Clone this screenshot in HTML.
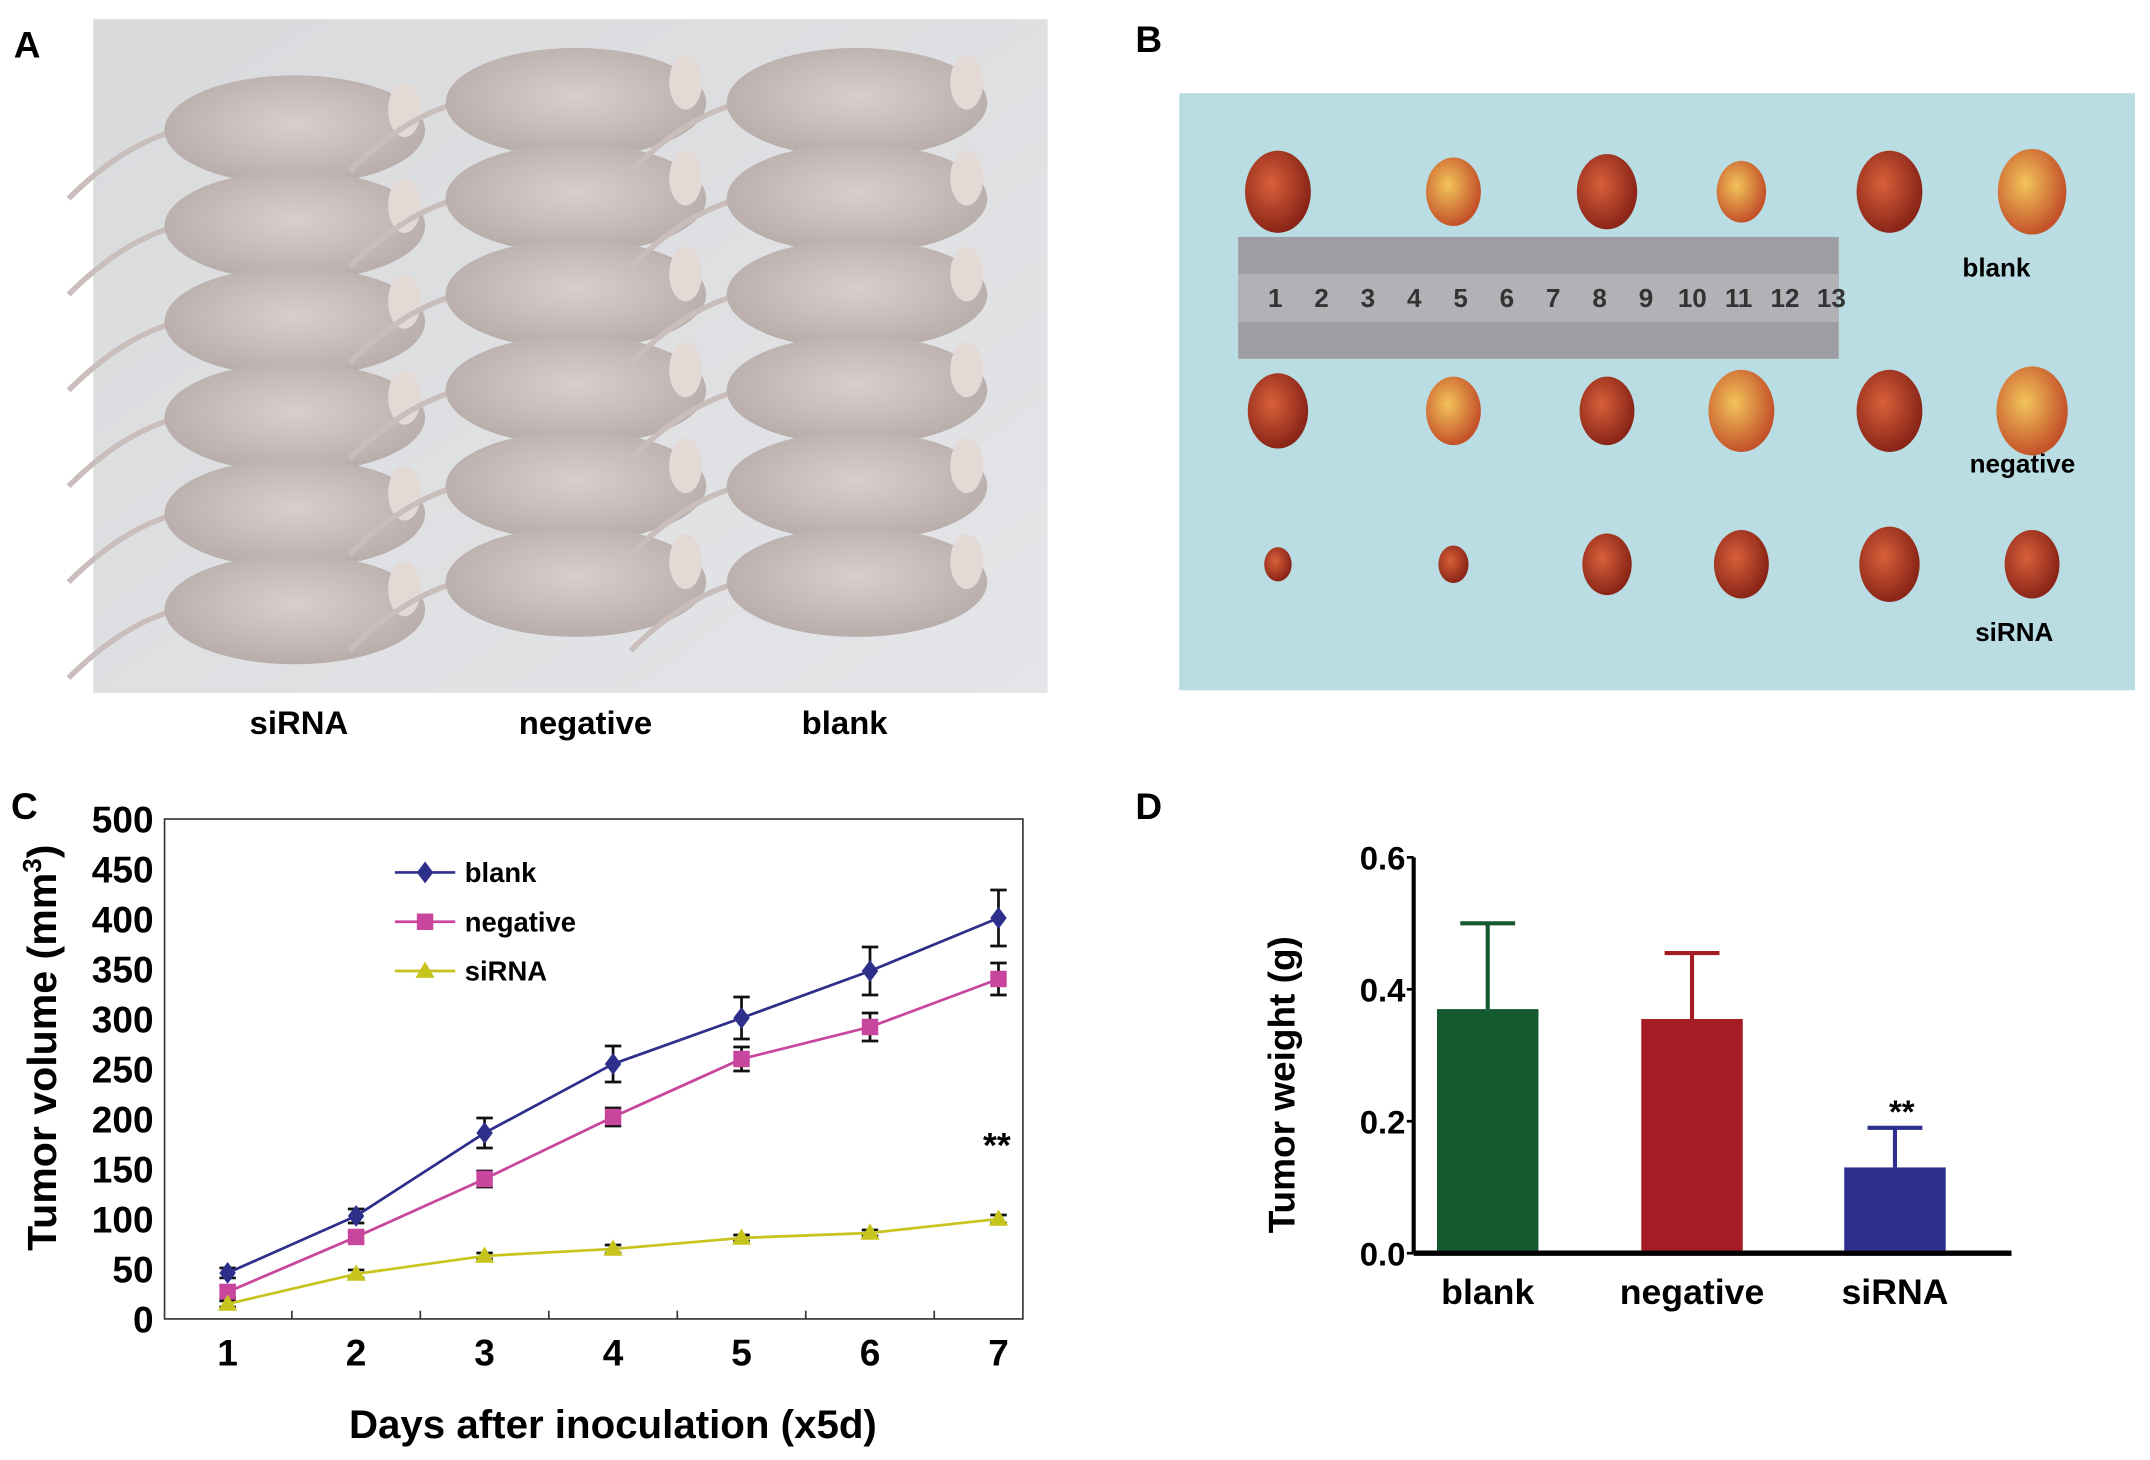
<!DOCTYPE html>
<html><head><meta charset="utf-8">
<style>
html,body{margin:0;padding:0;background:#fff;}
svg{display:block;}
text{font-family:"Liberation Sans",Arial,sans-serif;font-weight:bold;}
</style></head>
<body>
<svg id="fig" width="2150" height="1460" viewBox="0 0 1568 1066" preserveAspectRatio="none" xmlns="http://www.w3.org/2000/svg">
<defs>
<linearGradient id="mbg" x1="0" y1="0" x2="1" y2="1"><stop offset="0" stop-color="#d9dadc"/><stop offset="1" stop-color="#e4e5e8"/></linearGradient>
<radialGradient id="mouse" cx="0.5" cy="0.45" r="0.6"><stop offset="0" stop-color="#d8cfcc"/><stop offset="1" stop-color="#b5aaa8"/></radialGradient>
<radialGradient id="tum" cx="0.4" cy="0.4" r="0.6"><stop offset="0" stop-color="#f2c45a"/><stop offset="1" stop-color="#c4522a"/></radialGradient>
<radialGradient id="tumr" cx="0.4" cy="0.4" r="0.6"><stop offset="0" stop-color="#d9603a"/><stop offset="1" stop-color="#8a2518"/></radialGradient>
</defs>

<text x="10" y="42" font-size="27">A</text>
<text x="828" y="38" font-size="27">B</text>
<text x="8" y="598" font-size="27">C</text>
<text x="828" y="598" font-size="27">D</text>

<g>
<rect x="68" y="14" width="696" height="492" fill="url(#mbg)"/>
<g id="mice"></g>
</g>
<text x="218" y="536" font-size="24" text-anchor="middle">siRNA</text>
<text x="427" y="536" font-size="24" text-anchor="middle">negative</text>
<text x="616" y="536" font-size="24" text-anchor="middle">blank</text>

<g>
<rect x="860" y="68" width="697" height="436" fill="#b9dde2"/>
<rect x="903" y="173" width="438" height="89" fill="#9c9ea3"/>
<rect x="903" y="200" width="438" height="35" fill="#b0b2b6"/>
<g id="ruler-nums" font-family="Liberation Serif" font-size="19" fill="#333"></g>
<g id="tumors"></g>
<text x="1456" y="202" font-size="19" text-anchor="middle">blank</text>
<text x="1475" y="345" font-size="19" text-anchor="middle">negative</text>
<text x="1469" y="468" font-size="19" text-anchor="middle">siRNA</text>
</g>

<g id="chartC"></g>
<g id="chartD"></g>
</svg>
<script>
const NS="http://www.w3.org/2000/svg";
function mk(tag,attrs,parent,txt){const e=document.createElementNS(NS,tag);for(const k in attrs)e.setAttribute(k,attrs[k]);if(txt!==undefined)e.textContent=txt;parent.appendChild(e);return e;}

// ---- Chart C data ----
const days=[1,2,3,4,5,6,7];
const blankVol=[46,103,186,255,301,348,401];
const blankErr=[5,7,15,18,21,24,28];
const negVol=[27,82,140,202,260,292,340];
const negErr=[6,5,8,9,12,14,16];
const sirnaVol=[15,45,63,70,81,86,100];
const sirnaErr=[3,4,3,4,3,3,4];
const yTicksC=[0,50,100,150,200,250,300,350,400,450,500];

// ---- Chart D data ----
const groups=["blank","negative","siRNA"];
const weights=[0.37,0.355,0.13];
const weightErr=[0.13,0.10,0.06];
const yTicksD=[0.0,0.2,0.4,0.6];
const barColors=["#145a2e","#a51c24","#2c2f8e"];

(function(){
 const g=document.getElementById('mice');
 const cols=[[215,0],[420,0],[625,0]];
 for(let c=0;c<3;c++){for(let r=0;r<6;r++){
  const cx=cols[c][0], cy=75+r*70+(c===0?20:0);
  mk('path',{d:`M${cx-85} ${cy} q-40 10 -80 50`,stroke:'#c9bebc','stroke-width':4,fill:'none'},g);
  mk('ellipse',{cx:cx,cy:cy,rx:95,ry:40,fill:'url(#mouse)'},g);
  mk('ellipse',{cx:cx+80,cy:cy-15,rx:12,ry:20,fill:'#e3d9d5'},g);
 }}
})();
(function(){
 const g=document.getElementById('ruler-nums');
 for(let i=1;i<=13;i++){mk('text',{x:930+(i-1)*33.8,y:224,'text-anchor':'middle','font-weight':'normal'},g,String(i));}
 const t=document.getElementById('tumors');
 const xs=[932,1060,1172,1270,1378,1482];
 const rows=[[140,[24,20,22,18,24,25],'url(#tum)'],[300,[22,20,20,24,24,26],'url(#tum)'],[412,[10,11,18,20,22,20],'url(#tumr)']];
 rows.forEach(r=>xs.forEach((x,i)=>mk('ellipse',{cx:x,cy:r[0],rx:r[1][i]*1.0,ry:r[1][i]*1.25,fill:i%2?r[2]:'url(#tumr)'},t)));
})();

(function(){
 const g=document.getElementById('chartC');
 const L=120,R=746,T=598,B=963;
 const y=v=>B-(v/500)*(B-T);
 const x=d=>166+(d-1)*93.7;
 const f=mk('rect',{x:L,y:T,width:R-L,height:B-T,fill:'none',stroke:'#333','stroke-width':1.2},g);
 
 yTicksC.forEach(v=>{
  const t=mk('text',{x:L-8,y:y(v)+10,'text-anchor':'end','font-size':27},g,String(v));
  
 });
 for(let i=1;i<7;i++){mk('line',{x1:x(i+0.5),x2:x(i+0.5),y1:B,y2:B-6,stroke:'#333','stroke-width':1.2},g);}
 days.forEach(d=>{
  const t=mk('text',{x:x(d),y:B+34,'text-anchor':'middle','font-size':27},g,String(d));
  
 });
 const xt=mk('text',{x:447,y:1050,'text-anchor':'middle','font-size':29,textLength:385,lengthAdjust:'spacingAndGlyphs'},g,'Days after inoculation (x5d)');
 
 const yt=mk('text',{x:0,y:0,transform:'translate(41,765) rotate(-90)','text-anchor':'middle','font-size':30},g,'Tumor volume (mm');
 mk('tspan',{dy:-11,'font-size':19},yt,'3');mk('tspan',{dy:11},yt,')');
 
 const series=[[blankVol,blankErr,'#2e2f8a','d','blank'],[negVol,negErr,'#c8469e','s','negative'],[sirnaVol,sirnaErr,'#c8c41e','t','siRNA']];
 function marker(cx,cy,type,col,parent){
  if(type==='d')return mk('path',{d:`M${cx} ${cy-8}L${cx+6} ${cy}L${cx} ${cy+8}L${cx-6} ${cy}Z`,fill:col},parent);
  if(type==='s')return mk('rect',{x:cx-6,y:cy-6,width:12,height:12,fill:col},parent);
  return mk('path',{d:`M${cx} ${cy-7}L${cx+7} ${cy+5}L${cx-7} ${cy+5}Z`,fill:col},parent);
 }
 series.forEach(([vals,errs,col,type,name])=>{
  const sg=mk('g',{},g);
  
  vals.forEach((v,i)=>{
   const cx=x(days[i]);
   mk('line',{x1:cx,x2:cx,y1:y(v+errs[i]),y2:y(v-errs[i]),stroke:'#111','stroke-width':2},sg);
   mk('line',{x1:cx-6,x2:cx+6,y1:y(v+errs[i]),y2:y(v+errs[i]),stroke:'#111','stroke-width':2},sg);
   mk('line',{x1:cx-6,x2:cx+6,y1:y(v-errs[i]),y2:y(v-errs[i]),stroke:'#111','stroke-width':2},sg);
  });
  mk('polyline',{points:vals.map((v,i)=>x(days[i])+','+y(v)).join(' '),fill:'none',stroke:col,'stroke-width':2},sg);
  vals.forEach((v,i)=>{const m=marker(x(days[i]),y(v),type,col,sg);});
 });
 series.forEach(([v,e,col,type,name],i)=>{
  const ly=637+i*36;
  const lg=mk('g',{},g);
  
  mk('line',{x1:288,x2:332,y1:ly,y2:ly,stroke:col,'stroke-width':2},lg);
  marker(310,ly,type,col,lg);
  mk('text',{x:339,y:ly+7,'font-size':20},lg,name);
 });
 const st=mk('text',{x:727,y:845,'text-anchor':'middle','font-size':26},g,'**');
 
})();

(function(){
 const g=document.getElementById('chartD');
 const L=1031,R=1467,T=626,B=915;
 const y=v=>B-(v/0.6)*(B-T);
 const cx=[1085,1234,1382], bw=74;
 mk('line',{x1:L,x2:L,y1:T,y2:B,stroke:'#000','stroke-width':3},g);
 mk('line',{x1:L,x2:R,y1:B,y2:B,stroke:'#000','stroke-width':4},g);
 yTicksD.forEach(v=>{
  mk('line',{x1:L-5,x2:L,y1:y(v),y2:y(v),stroke:'#000','stroke-width':2},g);
  const t=mk('text',{x:L-6,y:y(v)+9,'text-anchor':'end','font-size':24},g,v.toFixed(1));
  
 });
 groups.forEach((name,i)=>{
  const top=weights[i]+weightErr[i];
  mk('line',{x1:cx[i],x2:cx[i],y1:y(top),y2:y(weights[i]),stroke:barColors[i],'stroke-width':3},g);
  mk('line',{x1:cx[i]-20,x2:cx[i]+20,y1:y(top),y2:y(top),stroke:barColors[i],'stroke-width':3},g);
  const b=mk('rect',{x:cx[i]-bw/2,y:y(weights[i]),width:bw,height:B-2-y(weights[i]),fill:barColors[i]},g);
  
  const t=mk('text',{x:cx[i],y:952,'text-anchor':'middle','font-size':26},g,name);
  
 });
 const st=mk('text',{x:1387,y:820,'text-anchor':'middle','font-size':24},g,'**');
 
 const yt=mk('text',{transform:'translate(944,792) rotate(-90)','text-anchor':'middle','font-size':27},g,'Tumor weight (g)');
 
})();
</script>
</body></html>
